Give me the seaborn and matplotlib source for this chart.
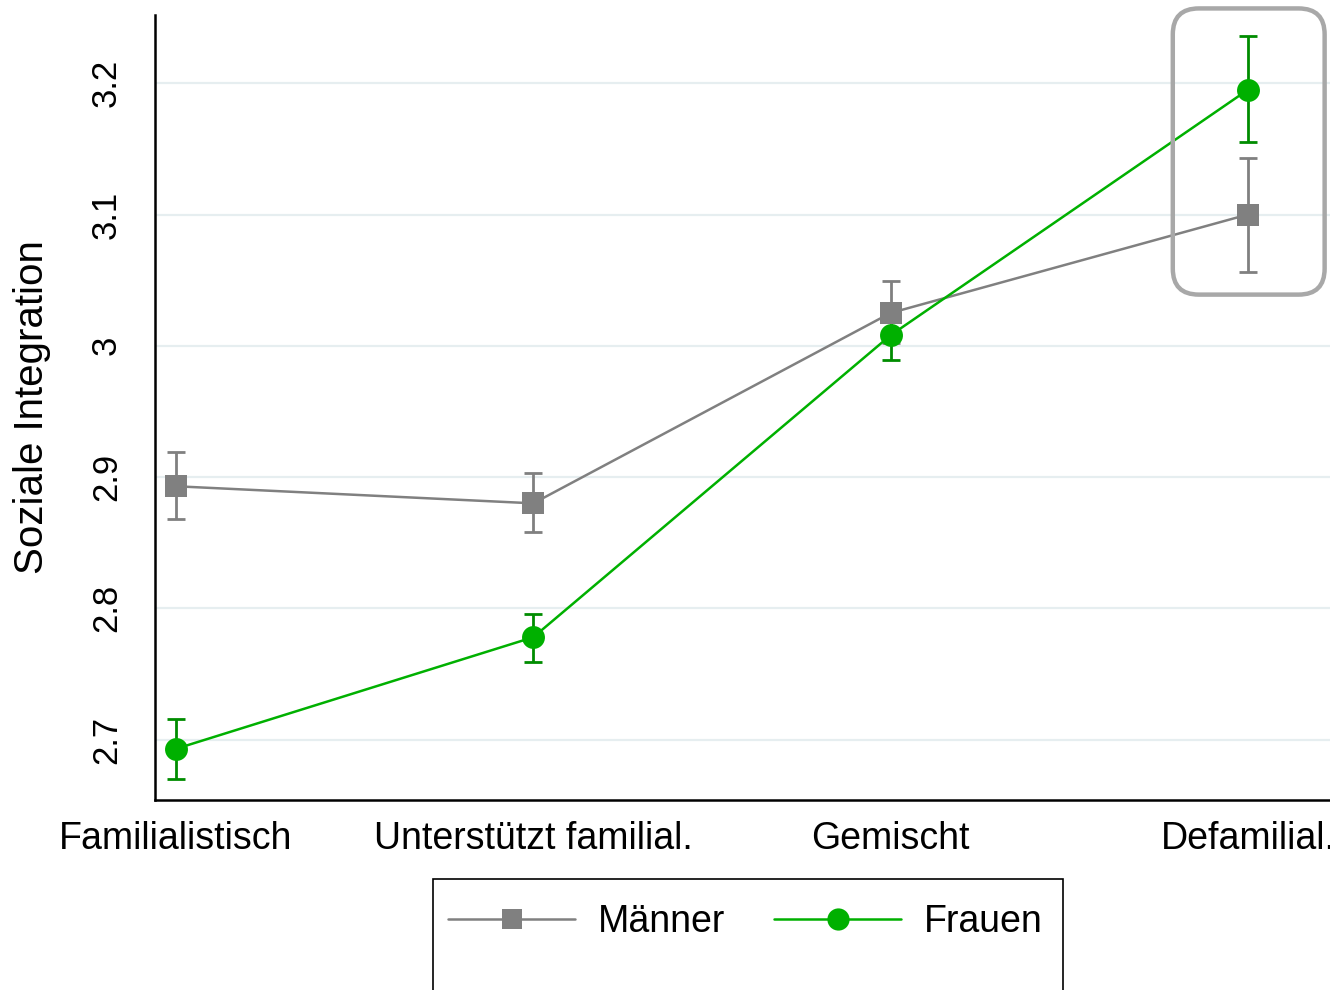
import numpy as np
import pandas as pd
import matplotlib
matplotlib.use("Agg")
import matplotlib.pyplot as plt
from matplotlib.patches import FancyBboxPatch, Rectangle
from matplotlib.lines import Line2D
from matplotlib.transforms import IdentityTransform
import seaborn as sns

# categories and estimates
categories = ["Familialistisch", "Unterstützt familial.", "Gemischt", "Defamilial."]
maenner_mean = [2.893, 2.880, 3.025, 3.100]
maenner_lo = [2.868, 2.858, 3.002, 3.056]
maenner_hi = [2.919, 2.903, 3.049, 3.143]
frauen_mean = [2.693, 2.778, 3.008, 3.195]
frauen_lo = [2.670, 2.759, 2.989, 3.155]
frauen_hi = [2.716, 2.796, 3.027, 3.236]
y_ticks = [2.7, 2.8, 2.9, 3.0, 3.1, 3.2]
y_tick_labels = ["2.7", "2.8", "2.9", "3", "3.1", "3.2"]

sns.set_style("white")
plt.rcParams['font.family'] = ['Liberation Sans', 'DejaVu Sans']
plt.rcParams['text.color'] = 'black'
plt.rcParams['axes.labelcolor'] = 'black'
plt.rcParams['xtick.color'] = 'black'
plt.rcParams['ytick.color'] = 'black'

GRAY = "#808080"
GREEN = "#00b000"
GREEN_CI = "#008c00"

pos = np.arange(len(categories))
df = pd.DataFrame({
    "pos": np.concatenate([pos, pos]),
    "mean": maenner_mean + frauen_mean,
    "group": ["Männer"] * len(pos) + ["Frauen"] * len(pos),
})

fig = plt.figure(figsize=(13.3, 9.9), dpi=100)
ax = fig.add_axes([155 / 1330, 190 / 990, 1200 / 1330, 785 / 990])

# grid
for t in y_ticks:
    ax.axhline(t, color="#e6eef0", lw=1.6, zorder=0)

# confidence intervals
ax.errorbar(pos, maenner_mean,
            yerr=[np.subtract(maenner_mean, maenner_lo), np.subtract(maenner_hi, maenner_mean)],
            fmt="none", ecolor=GRAY, elinewidth=2, capsize=6.5, capthick=2, zorder=2)
ax.errorbar(pos, frauen_mean,
            yerr=[np.subtract(frauen_mean, frauen_lo), np.subtract(frauen_hi, frauen_mean)],
            fmt="none", ecolor=GREEN_CI, elinewidth=2, capsize=6.5, capthick=2, zorder=2)

sns.lineplot(data=df, x="pos", y="mean", hue="group", style="group",
             palette={"Männer": GRAY, "Frauen": GREEN},
             markers={"Männer": "s", "Frauen": "o"}, dashes=False,
             markersize=16.5, markeredgewidth=0, linewidth=1.8,
             legend=False, ax=ax, zorder=3)

ax.set_xlim(-0.0588, 3.3)
ax.set_ylim(2.654, 3.252)
ax.set_xticks(pos)
ax.set_xticklabels(categories, fontsize=27)
ax.set_yticks(y_ticks)
ax.set_yticklabels(y_tick_labels, fontsize=25, rotation=90, va="center")
ax.set_xlabel("")
ax.set_ylabel("Soziale Integration", fontsize=29, labelpad=28)
ax.tick_params(axis="both", length=9, width=1.6, color="black", direction="out")
ax.tick_params(axis="x", pad=6)
ax.tick_params(axis="y", pad=14)
for side in ["top", "right"]:
    ax.spines[side].set_visible(False)
for side in ["left", "bottom"]:
    ax.spines[side].set_linewidth(1.8)
    ax.spines[side].set_color("black")

# rounded highlight around the last category
fig.canvas.draw()
x0, y0 = ax.transData.transform((pos[-1] - 0.21, maenner_lo[-1] - 0.017))
x1, y1 = ax.transData.transform((pos[-1] + 0.215, frauen_hi[-1] + 0.021))
box = FancyBboxPatch((x0, y0), x1 - x0, y1 - y0,
                     boxstyle="round,pad=0,rounding_size=26",
                     transform=IdentityTransform(), fill=False,
                     edgecolor="#a8a8a8", lw=3.2, clip_on=False, zorder=5)
fig.add_artist(box)

# legend
handles = [
    Line2D([], [], color=GRAY, lw=1.8, marker="s", markersize=14, markeredgewidth=0),
    Line2D([], [], color=GREEN, lw=1.8, marker="o", markersize=16, markeredgewidth=0),
]
fig.legend(handles, ["Männer", "Frauen"], loc="center left",
           bbox_to_anchor=(414 / 1330, 1 - 922 / 990), ncol=2, frameon=False,
           fontsize=27, handlelength=3.4, handletextpad=0.6, columnspacing=1.3)
fig.add_artist(Rectangle((433 / 1330, -0.05), 630 / 1330, (990 - 879) / 990 + 0.05,
                         transform=fig.transFigure, fill=False,
                         edgecolor="black", lw=1.2))

fig.savefig("out.png", dpi=100)
